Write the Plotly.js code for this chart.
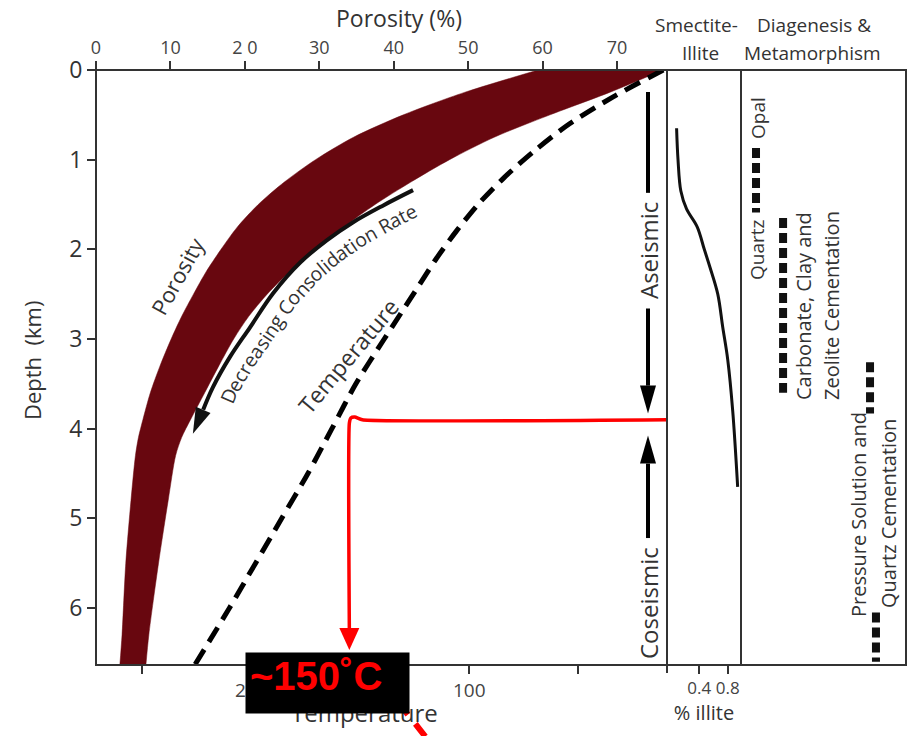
<!DOCTYPE html>
<html>
<head>
<meta charset="utf-8">
<script src="https://cdn.plot.ly/plotly-3.0.1.min.js"></script>
<style>
  html, body { margin: 0; padding: 0; background: #fff; }
  #chart { width: 909px; height: 736px; }
</style>
</head>
<body>
<div id="chart"></div>
<script>
// ---------- Porosity envelope: porosity (%) against depth (km) ----------
const bandDepth   = [0, 0.25, 0.5, 0.75, 1.0, 1.25, 1.5, 1.75, 2.0, 2.25, 2.5, 2.75, 3.0, 3.3, 3.6, 3.9, 4.1, 4.3, 4.8, 5.5, 6.3, 6.64];
const porosityMin = [59.4, 49.5, 41.3, 34.6, 29.5, 25.3, 21.8, 19.0, 16.8, 14.8, 13.1, 11.5, 10.1, 8.6, 7.3, 6.3, 5.7, 5.3, 4.7, 4.0, 3.5, 3.2];
const porosityMax = [76.2, 69.0, 61.0, 53.5, 47.5, 42.3, 37.5, 33.3, 29.5, 26.0, 23.0, 20.5, 18.5, 16.5, 14.6, 12.7, 11.5, 10.7, 9.7, 8.4, 7.1, 6.7];

// ---------- Geotherm: temperature (°C) against depth (km) ----------
const tempDepth   = [0, 0.3, 0.6, 0.9, 1.2, 1.5, 1.8, 2.1, 2.4, 2.7, 3.0, 3.5, 4.0, 4.5, 5.0, 5.5, 6.0, 6.64];
const temperature = [11, 34, 54, 70, 84, 96, 106, 115, 123, 131, 139, 152, 163, 174, 186, 198, 210, 226];

// ---------- Smectite -> illite transformation ----------
const illiteDepth = [0.65, 1.0, 1.35, 1.55, 1.75, 2.0, 2.2, 2.5, 2.87, 3.23, 3.8, 4.65];
const illiteFrac  = [0.08, 0.10, 0.14, 0.22, 0.37, 0.47, 0.55, 0.66, 0.73, 0.80, 0.87, 0.94];

// ---------- Diagenetic reactions: depth ranges (km) ----------
const reactionTop  = [0.87, 1.65, 3.26, 6.05];
const reactionBase = [1.59, 3.60, 3.83, 6.60];

// ---------- Aseismic / coseismic transition ----------
const transitionDepth = 3.9;   // km
const transitionTemp  = 155;   // °C

// ---------- Tick values and labels ----------
const porosityTicks    = [0, 10, 20, 30, 40, 50, 60, 70];
const porosityTickText = ['0', '10', '2 0', '30', '40', '50', '60', '70'];
const depthTicks       = [0, 1, 2, 3, 4, 5, 6];
const illiteTicks      = [0.4, 0.8];

// ---------- Page geometry ----------
const W = 909, H = 736;
const M = { l: 96, r: 3, t: 70, b: 71 };
const PW = W - M.l - M.r, PH = H - M.t - M.b;
const edgeMain = 667, edgeIllite = 741;
const dMain = (edgeMain - M.l) / PW, dIllite = (edgeIllite - M.l) / PW;
const mainW = edgeMain - M.l;

const porosityRange = [0, 76.72];
const depthRange    = [6.636, 0];
const tempRange     = [271.2, 9.3];
const illiteRange   = [-0.055, 0.987];

const FONT = '"Open Sans", "DejaVu Sans", sans-serif';
const INK = '#333';

const paperX = x => (x - M.l) / PW;
const paperY = y => (H - M.b - y) / PH;

// linear maps between data units and page pixels for the main panel
const lin = (r, p0, len) => ({
  toPx: v => p0 + (v - r[0]) / (r[1] - r[0]) * len,
  fromPx: p => r[0] + (p - p0) / len * (r[1] - r[0])
});
const AX = {
  x:  lin(porosityRange, M.l, mainW),
  x2: lin(tempRange, M.l, mainW),
  y:  lin(depthRange, H - M.b, -PH)
};

// triangular arrowhead (shape path in data units) continuing from `prev` through `base`
function arrowHead(xa, base, prev, len, half, color) {
  const X = AX[xa], Y = AX.y;
  const bx = X.toPx(base[0]), by = Y.toPx(base[1]);
  const qx = X.toPx(prev[0]), qy = Y.toPx(prev[1]);
  const L = Math.hypot(bx - qx, by - qy);
  const ux = (bx - qx) / L, uy = (by - qy) / L;
  const tx = bx + ux * len, ty = by + uy * len;
  const ax = bx - uy * half, ay = by + ux * half;
  const cx = bx + uy * half, cy = by - ux * half;
  const pt = (px, py) => X.fromPx(px) + ',' + Y.fromPx(py);
  return {
    type: 'path', xref: xa, yref: 'y', layer: 'above',
    path: 'M' + pt(ax, ay) + ' L' + pt(tx, ty) + ' L' + pt(cx, cy) + ' Z',
    fillcolor: color, line: { width: 0 }
  };
}

// ---------- Traces ----------
const traces = [];
const BAND = '#68070f';

// porosity envelope: low edge, then high edge filled back to it
traces.push({
  x: porosityMin, y: bandDepth, xaxis: 'x', yaxis: 'y', mode: 'lines',
  line: { color: BAND, width: 0.5, shape: 'spline', smoothing: 0.8 }, hoverinfo: 'skip'
});
traces.push({
  x: porosityMax, y: bandDepth, xaxis: 'x', yaxis: 'y', mode: 'lines', fill: 'tonextx',
  fillcolor: BAND, line: { color: BAND, width: 0.5, shape: 'spline', smoothing: 0.8 }, hoverinfo: 'skip'
});

// geotherm
traces.push({
  x: temperature, y: tempDepth, xaxis: 'x2', yaxis: 'y', mode: 'lines',
  line: { color: '#000', width: 5, dash: '17px,9px', shape: 'spline', smoothing: 0.8 },
  hoverinfo: 'skip'
});

// consolidation-rate guide arrow (follows the lower edge of the envelope)
const guidePhi   = [42.6, 38.6, 34.5, 31.0, 27.4, 23.8, 20.7, 18.0, 15.7, 14.4];
const guideDepth = [1.34, 1.51, 1.70, 1.90, 2.15, 2.49, 2.87, 3.20, 3.54, 3.79];
traces.push({
  x: guidePhi, y: guideDepth, xaxis: 'x', yaxis: 'y', mode: 'lines',
  line: { color: '#111', width: 4, shape: 'spline' }, hoverinfo: 'skip'
});

// smectite-illite curve
traces.push({
  x: illiteFrac, y: illiteDepth, xaxis: 'x3', yaxis: 'y', mode: 'lines',
  line: { color: '#111', width: 3, shape: 'spline' }, hoverinfo: 'skip'
});

// diagenetic reaction ranges
const reactionLane = [0.091, 0.255, 0.782, 0.818];
reactionTop.forEach((top, i) => {
  traces.push({
    x: [reactionLane[i], reactionLane[i]], y: [top, reactionBase[i]],
    xaxis: 'x4', yaxis: 'y', mode: 'lines',
    line: { color: '#111', width: 8, dash: '10px,5px' }, hoverinfo: 'skip'
  });
});

// transition depth -> temperature read-off
const headLenRed = 22;
const redBase = AX.y.fromPx(AX.y.toPx(6.468) - headLenRed);
const dT = (tempRange[0] - tempRange[1]) / mainW;   // °C per pixel
traces.push({
  x: [tempRange[1], transitionTemp - 13 * dT, transitionTemp - 5.5 * dT, transitionTemp - 1.5 * dT, transitionTemp, transitionTemp],
  y: [transitionDepth, transitionDepth, transitionDepth - 0.03, transitionDepth - 0.02, transitionDepth + 0.04, redBase],
  xaxis: 'x2', yaxis: 'y', mode: 'lines',
  line: { color: '#ff0000', width: 3.5, shape: 'spline', smoothing: 0.5 }, hoverinfo: 'skip'
});

// ---------- Shapes ----------
const shapes = [];
shapes.push({ type: 'rect', xref: 'paper', yref: 'paper', x0: 0, x1: 1, y0: 0, y1: 1, line: { color: INK, width: 2 } });
shapes.push({ type: 'line', xref: 'paper', yref: 'paper', x0: dMain, x1: dMain, y0: paperY(673), y1: 1, line: { color: INK, width: 2 } });
shapes.push({ type: 'line', xref: 'paper', yref: 'paper', x0: dIllite, x1: dIllite, y0: 0, y1: 1, line: { color: INK, width: 2 } });

// aseismic / coseismic arrows
const seisPhi = AX.x.fromPx(648);
const seisLine = (d0, d1) => ({ type: 'line', xref: 'x', yref: 'y', x0: seisPhi, x1: seisPhi, y0: d0, y1: d1, line: { color: '#000', width: 4 } });
shapes.push(seisLine(0.245, 1.37));
shapes.push(seisLine(2.66, 3.52));
shapes.push(arrowHead('x', [seisPhi, 3.52], [seisPhi, 2.66], 28, 8, '#000'));
shapes.push(seisLine(5.22, 4.39));
shapes.push(arrowHead('x', [seisPhi, 4.39], [seisPhi, 5.22], 28, 8, '#000'));

// guide arrowhead
const gn = guidePhi.length;
shapes.push(arrowHead('x', [guidePhi[gn - 1], guideDepth[gn - 1]], [guidePhi[gn - 2], guideDepth[gn - 2]], 26, 8, '#111'));

// red arrowhead
shapes.push(arrowHead('x2', [transitionTemp, redBase], [transitionTemp, transitionDepth + 0.5], headLenRed, 10, '#ff0000'));

// red dashed pointer leaving the figure at the bottom
shapes.push({ type: 'line', xref: 'paper', yref: 'paper', x0: paperX(398), y0: paperY(702), x1: paperX(436), y1: paperY(750),
  line: { color: '#ff0000', width: 6, dash: '16px,12px' } });

// ---------- Annotations ----------
const ann = [];
const label = (text, x, y, size, angle, color) => ann.push({
  xref: 'paper', yref: 'paper', x: paperX(x), y: paperY(y), text: text,
  showarrow: false, textangle: angle || 0, xanchor: 'center', yanchor: 'middle',
  font: { family: FONT, size: size, color: color || INK }
});

label('Porosity (%)', 399, 18, 23);
label('Depth\u00a0 (km)', 32, 361, 22, -90);

label('Smectite-', 696, 25, 19);
label('Illite', 700, 53, 19);
label('Diagenesis &amp;', 814, 25, 19);
label('Metamorphism', 812, 53, 19);

label('Porosity', 177, 276, 22, -61);
label('Temperature', 348, 356, 23, -50);
label('Aseismic', 648, 251, 24, -90);
label('Coseismic', 648, 603, 24, -90);

label('Opal', 758, 118, 19, -90);
label('Quartz', 757, 250, 19, -90);
label('Carbonate, Clay and', 803, 306, 20, -90);
label('Zeolite Cementation', 831, 306, 20, -90);
label('Pressure Solution and', 858, 515, 20, -90);
label('Quartz Cementation', 888, 514, 20, -90);

label('Temperature', 364, 712, 24, 0);

// curved caption along the consolidation guide arrow
(function () {
  const text = 'Decreasing Consolidation Rate';
  const size = 19.5, offset = 18;
  const ctx = document.createElement('canvas').getContext('2d');
  ctx.font = size + 'px "Open Sans"';
  const pts = guidePhi.map((p, i) => [AX.x.toPx(p), AX.y.toPx(guideDepth[i])]).reverse();
  const off = pts.map((p, i) => {
    const a = pts[Math.max(0, i - 1)], b = pts[Math.min(pts.length - 1, i + 1)];
    const L = Math.hypot(b[0] - a[0], b[1] - a[1]);
    const ux = (b[0] - a[0]) / L, uy = (b[1] - a[1]) / L;
    return [p[0] - uy * offset, p[1] + ux * offset];
  });
  const cum = [0];
  for (let i = 1; i < off.length; i++) cum.push(cum[i - 1] + Math.hypot(off[i][0] - off[i - 1][0], off[i][1] - off[i - 1][1]));
  const at = s => {
    let i = 1;
    while (i < cum.length - 1 && cum[i] < s) i++;
    const t = (s - cum[i - 1]) / (cum[i] - cum[i - 1]);
    const a = off[i - 1], b = off[i];
    return { x: a[0] + (b[0] - a[0]) * t, y: a[1] + (b[1] - a[1]) * t, ang: Math.atan2(b[1] - a[1], b[0] - a[0]) * 180 / Math.PI };
  };
  let s = 16;
  for (const ch of text) {
    const w = ctx.measureText(ch).width;
    if (ch !== ' ') {
      const p = at(s + w / 2);
      ann.push({
        xref: 'paper', yref: 'paper', x: paperX(p.x), y: paperY(p.y), text: ch,
        showarrow: false, textangle: p.ang, xanchor: 'center', yanchor: 'middle',
        font: { family: FONT, size: size, color: INK }
      });
    }
    s += w;
  }
})();

// read-off value: black plate, then red text
ann.push({
  xref: 'paper', yref: 'paper', x: paperX(245), y: paperY(652),
  xanchor: 'left', yanchor: 'top', width: 163, height: 60, borderpad: 0,
  bgcolor: '#000', text: '\u00a0', showarrow: false, font: { size: 10, color: '#000' }
});
ann.push({
  xref: 'paper', yref: 'paper', x: paperX(249), y: paperY(676),
  xanchor: 'left', yanchor: 'middle', showarrow: false, borderpad: 0,
  text: '<b>~' + Math.round(transitionTemp / 50) * 50 + '˚C</b>',
  font: { family: '"Liberation Sans", Arial, sans-serif', size: 40, color: '#ff0000' }
});

// ---------- Layout ----------
const layout = {
  width: W, height: H, margin: M, showlegend: false,
  paper_bgcolor: '#fff', plot_bgcolor: 'rgba(0,0,0,0)',
  font: { family: FONT, color: INK },
  xaxis: {
    domain: [0, dMain], range: porosityRange, side: 'top', anchor: 'y',
    tickmode: 'array', tickvals: porosityTicks, ticktext: porosityTickText,
    ticks: 'outside', ticklen: 8, tickwidth: 2, tickcolor: INK,
    tickfont: { family: FONT, size: 18, color: '#444' },
    showline: false, showgrid: false, zeroline: false
  },
  xaxis2: {
    overlaying: 'x', side: 'bottom', anchor: 'y', range: tempRange,
    tickmode: 'linear', tick0: 0, dtick: 100,
    ticks: 'outside', ticklen: 8, tickwidth: 2, tickcolor: INK,
    tickfont: { family: FONT, size: 19, color: '#444' },
    minor: { tick0: 0, dtick: 50, ticks: 'outside', ticklen: 8, tickwidth: 2, tickcolor: INK, showgrid: false },
    showline: false, showgrid: false, zeroline: false
  },
  xaxis3: {
    domain: [dMain, dIllite], range: illiteRange, anchor: 'y', side: 'bottom',
    tickmode: 'array', tickvals: illiteTicks, ticktext: ['0.4', '0.8'],
    ticks: 'outside', ticklen: 8, tickwidth: 2, tickcolor: INK,
    tickfont: { family: FONT, size: 17, color: '#444' },
    showline: false, showgrid: false, zeroline: false,
    title: { text: '% illite', font: { family: FONT, size: 20, color: INK }, standoff: 4 }
  },
  xaxis4: { domain: [dIllite, 1], range: [0, 1], anchor: 'y', visible: false },
  yaxis: {
    domain: [0, 1], range: depthRange, anchor: 'x',
    tickmode: 'array', tickvals: depthTicks,
    ticks: 'outside', ticklen: 8, tickwidth: 2, tickcolor: INK,
    tickfont: { family: FONT, size: 23, color: INK },
    showline: false, showgrid: false, zeroline: false
  },
  shapes: shapes,
  annotations: ann
};

Plotly.newPlot('chart', traces, layout, { staticPlot: true, displayModeBar: false });
</script>
</body>
</html>
